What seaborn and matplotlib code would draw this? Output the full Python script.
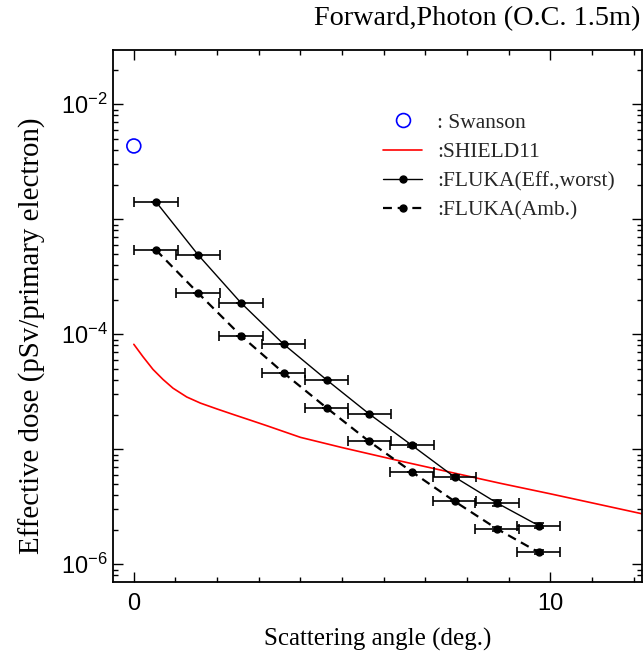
import numpy as np
import pandas as pd
import seaborn as sns
import matplotlib
matplotlib.use("Agg")
import matplotlib.pyplot as plt
from matplotlib.lines import Line2D
from matplotlib.ticker import LogLocator, FixedLocator, NullFormatter, FuncFormatter

# ---- data ----
swanson_x = [0.0]
swanson_y = [4.34e-3]

shield_x = [0.0, 0.22, 0.46, 0.70, 0.94, 1.27, 1.6, 2.0, 2.4, 2.8, 3.2, 4.0, 5.0,
            6.4, 7.7, 8.8, 10.0, 11.0, 12.3]
shield_y = [8.18e-5, 6.38e-5, 4.95e-5, 4.05e-5, 3.40e-5, 2.85e-5, 2.52e-5, 2.24e-5,
            2.0e-5, 1.79e-5, 1.60e-5, 1.27e-5, 1.035e-5, 7.9e-6, 6.2e-6, 5.06e-6,
            4.1e-6, 3.42e-6, 2.70e-6]

fluka_x = [0.53, 1.54, 2.57, 3.60, 4.63, 5.65, 6.68, 7.70, 8.72, 9.72]
fluka_xerr = [0.52] * 10
eff_y = [1.42e-3, 4.92e-4, 1.88e-4, 8.18e-5, 4.01e-5, 2.03e-5, 1.08e-5, 5.74e-6, 3.41e-6, 2.17e-6]
eff_yerr = [0, 0, 0, 0, 0, 0, 0.4e-6, 0.2e-6, 0.2e-6, 0.12e-6]
amb_y = [5.41e-4, 2.29e-4, 9.73e-5, 4.60e-5, 2.29e-5, 1.17e-5, 6.35e-6, 3.53e-6, 2.03e-6, 1.27e-6]
amb_yerr = [0, 0, 0, 0, 0, 0, 0, 0, 0.1e-6, 0.05e-6]

title = "Forward,Photon (O.C. 1.5m)"
xlabel = "Scattering angle (deg.)"
ylabel = "Effective dose (pSv/primary electron)"
legend_labels = [": Swanson", ":SHIELD11", ":FLUKA(Eff.,worst)", ":FLUKA(Amb.)"]

sns.set_theme(style="ticks")
plt.rcParams["font.family"] = ["Liberation Sans", "DejaVu Sans"]
plt.rcParams["mathtext.fontset"] = "custom"
plt.rcParams["mathtext.rm"] = "Liberation Sans"
plt.rcParams["mathtext.it"] = "Liberation Sans"
serif = ["Liberation Serif", "DejaVu Serif"]

fig = plt.figure(figsize=(6.43, 6.59), dpi=100)
ax = fig.add_axes([113 / 643, 1 - 582 / 659, 529 / 643, 532 / 659])

df_sh = pd.DataFrame({"x": shield_x, "y": shield_y})
df_eff = pd.DataFrame({"x": fluka_x, "y": eff_y})
df_amb = pd.DataFrame({"x": fluka_x, "y": amb_y})
df_sw = pd.DataFrame({"x": swanson_x, "y": swanson_y})

sns.lineplot(data=df_sh, x="x", y="y", ax=ax, color="red", lw=1.2, sort=True)
sns.lineplot(data=df_eff, x="x", y="y", ax=ax, color="black", lw=1.0)
sns.lineplot(data=df_amb, x="x", y="y", ax=ax, color="black", lw=1.6,
             linestyle=(0, (4, 2.6)))
ax.errorbar(fluka_x, eff_y, xerr=fluka_xerr, yerr=eff_yerr, fmt="o", color="black",
            ms=5, capsize=3.5, elinewidth=1.2, capthick=1.2)
ax.errorbar(fluka_x, amb_y, xerr=fluka_xerr, yerr=amb_yerr, fmt="o", color="black",
            ms=5, capsize=3.5, elinewidth=1.2, capthick=1.2)
sns.scatterplot(data=df_sw, x="x", y="y", ax=ax, marker="o", s=100,
                facecolor="none", edgecolor="blue", linewidth=1.2, zorder=5)

ax.set_yscale("log")
ax.set_xlim(-0.5, 12.2)
ax.set_ylim(10 ** -6.154, 10 ** -1.528)

ax.xaxis.set_major_locator(FixedLocator([0, 10]))
ax.xaxis.set_minor_locator(FixedLocator(list(range(0, 13))))
ax.yaxis.set_major_locator(FixedLocator([1e-6, 1e-5, 1e-4, 1e-3, 1e-2]))
ax.yaxis.set_minor_locator(LogLocator(base=10, subs=np.arange(2, 10), numticks=20))
ax.yaxis.set_minor_formatter(NullFormatter())


def yfmt(v, pos):
    e = int(round(np.log10(v)))
    if e % 2 == 0:
        return r"$10^{%d}$" % e
    return ""


ax.yaxis.set_major_formatter(FuncFormatter(yfmt))
ax.xaxis.set_major_formatter(FuncFormatter(lambda v, p: "%d" % v))

ax.tick_params(which="both", direction="in", top=True, right=True, color="black",
               width=1.0, labelsize=17, labelcolor="black")
ax.tick_params(which="major", length=7)
ax.tick_params(which="minor", length=3.5)
ax.tick_params(axis="x", which="major", pad=8)
ax.tick_params(axis="y", which="major", pad=4)
for s in ax.spines.values():
    s.set_color("black")
    s.set_linewidth(1.3)

ax.set_xlabel(xlabel, fontsize=18, family=serif, color="black", labelpad=9)
ax.set_ylabel(ylabel, fontsize=20.8, family=serif, color="black")
ax.yaxis.set_label_coords(-0.127, 0.462)
fig.text(640 / 643, 1 - 19 / 659, title, ha="right", va="center", fontsize=20.3,
         family=serif, color="black")

handles = [
    Line2D([], [], marker="o", ls="none", mfc="none", mec="blue", ms=10, mew=1.2),
    Line2D([], [], color="red", lw=1.2),
    Line2D([], [], color="black", lw=1.0, marker="o", ms=5),
    Line2D([], [], color="black", lw=1.6, ls=(0, (4, 2.6)), marker="o", ms=5),
]
leg = ax.legend(handles, legend_labels, loc="upper left", bbox_to_anchor=(0.495, 0.898),
                borderaxespad=0, frameon=False, prop={"family": serif, "size": 15.5},
                handlelength=1.8, handletextpad=0.7, labelspacing=0.43)

fig.savefig("out.png", dpi=100)
